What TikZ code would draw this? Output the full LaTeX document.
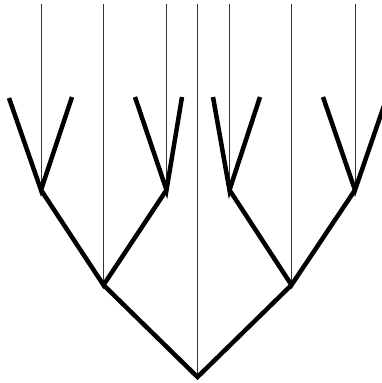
\documentclass[tikz,border=0pt]{standalone}
\begin{document}
\begin{tikzpicture}[x=1pt,y=-1pt,
  branch/.style={line width=4.5pt,line join=miter},
  guide/.style={line width=0.8pt,black!80}]
\useasboundingbox (0,0) rectangle (382,383);
\clip (0,0) rectangle (382,383);
\coordinate (r) at (197.5,377);
\coordinate (a) at (103.5,285);
\coordinate (b) at (291.5,285);
\coordinate (c) at (41,190);
\coordinate (d) at (166.5,190);
\coordinate (e) at (229.5,190);
\coordinate (f) at (355,190);
\coordinate (c1) at (9,98);
\coordinate (c2) at (72,97);
\coordinate (d1) at (135,97);
\coordinate (d2) at (182,97);
\coordinate (e1) at (213,97);
\coordinate (e2) at (260,97);
\coordinate (f1) at (323,97);
\coordinate (f2) at (387,97);
\foreach \n in {r,a,b,c,d,e,f}{
  \coordinate (t\n) at (\n |- 0,4);
  \draw[guide] (t\n) -- (\n);
}
\draw[branch] (c1) -- (c) -- (c2);
\draw[branch] (d1) -- (d) -- (d2);
\draw[branch] (e1) -- (e) -- (e2);
\draw[branch] (f1) -- (f) -- (f2);
\draw[branch] (c) -- (a) -- (d);
\draw[branch] (e) -- (b) -- (f);
\draw[branch] (a) -- (r) -- (b);
\end{tikzpicture}
\end{document}
